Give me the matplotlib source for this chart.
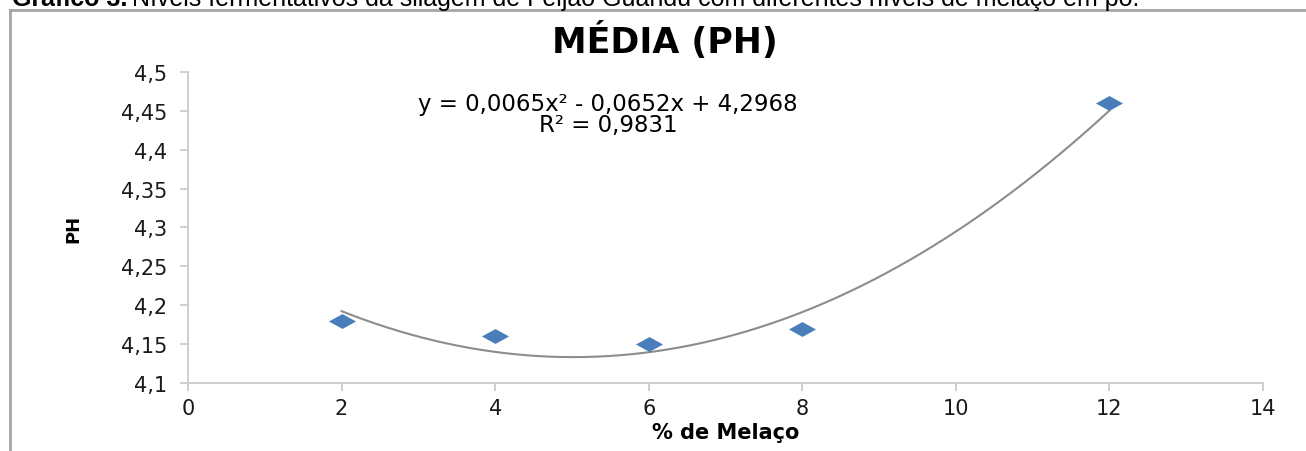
import numpy as np
import matplotlib.pyplot as plt
from matplotlib.ticker import FuncFormatter

plt.rcParams['font.family'] = ['DejaVu Sans']

# dados
melaco = [2, 4, 6, 8, 12]
ph_medio = [4.18, 4.16, 4.15, 4.17, 4.46]
coef = [0.0065, -0.0652, 4.2968]   # tendencia polinomial (ordem 2)
r2 = 0.9831
x_ticks = [0, 2, 4, 6, 8, 10, 12, 14]
y_ticks = [4.1, 4.15, 4.2, 4.25, 4.3, 4.35, 4.4, 4.45, 4.5]

W, H = 1306, 452
fig = plt.figure(figsize=(W / 100, H / 100), dpi=100)

# legenda do documento (cortada no topo, como no original)
cap_y = 1 - 6 / H
t1 = fig.text(12 / W, cap_y, 'Gráfico 3.', fontsize=18, fontweight='bold',
              family='Liberation Sans', va='baseline', ha='left')
fig.canvas.draw()
bb = t1.get_window_extent()
fig.text(bb.x1 / W + 5 / W, cap_y,
         'Níveis fermentativos da silagem de Feijão Guandu com diferentes níveis de melaço em pó.',
         fontsize=18, family='Liberation Sans', va='baseline', ha='left')

# moldura do grafico
top = 1 - 10.5 / H
fig.add_artist(plt.Line2D([10 / W, 10 / W], [0.0, top], color='#a6a6a6', lw=2,
                          transform=fig.transFigure))
fig.add_artist(plt.Line2D([10 / W, 1.0], [top, top], color='#a6a6a6', lw=2,
                          transform=fig.transFigure))

ax = fig.add_axes([188 / W, 1 - 384 / H, (1263 - 188) / W, (384 - 73) / H])

diamond = [(-1, 0), (0, 0.55), (1, 0), (0, -0.55), (-1, 0)]
ax.scatter(melaco, ph_medio, marker=diamond, s=380, color='#4a7ebb', zorder=3,
           linewidths=0)

xs = np.linspace(min(melaco), max(melaco), 200)
ax.plot(xs, np.polyval(coef, xs), color='#8c8c8c', lw=1.5, zorder=2)

ax.set_xlim(0, 14)
ax.set_ylim(4.1, 4.5)
ax.set_xticks(x_ticks)
ax.set_yticks(y_ticks)
fmt = FuncFormatter(lambda v, p: ('%g' % round(v, 2)).replace('.', ','))
ax.xaxis.set_major_formatter(fmt)
ax.yaxis.set_major_formatter(fmt)

for s in ['top', 'right']:
    ax.spines[s].set_visible(False)
for s in ['left', 'bottom']:
    ax.spines[s].set_color('#cccccc')
    ax.spines[s].set_linewidth(1.3)
ax.tick_params(axis='both', colors='#cccccc', labelcolor='#1a1a1a', labelsize=15,
               length=6, width=1.3, direction='out')
ax.tick_params(axis='x', pad=5)
ax.tick_params(axis='y', pad=9)

ax.set_xlabel('% de Melaço', fontsize=15, fontweight='bold', labelpad=3)
ax.set_ylabel('PH', fontsize=13, fontweight='bold', labelpad=28)

fig.text(665 / W, 1 - 41 / H, 'MÉDIA (PH)', fontsize=25, fontweight='bold',
         ha='center', va='center')

eq = 'y = %sx² - %sx + %s\nR² = %s' % (str(coef[0]).replace('.', ','),
                                        str(-coef[1]).replace('.', ','),
                                        str(coef[2]).replace('.', ','),
                                        str(r2).replace('.', ','))
fig.text(608 / W, 1 - 115 / H, eq, fontsize=16.5, ha='center', va='center',
         linespacing=0.88)

fig.savefig('out.png', dpi=100)
